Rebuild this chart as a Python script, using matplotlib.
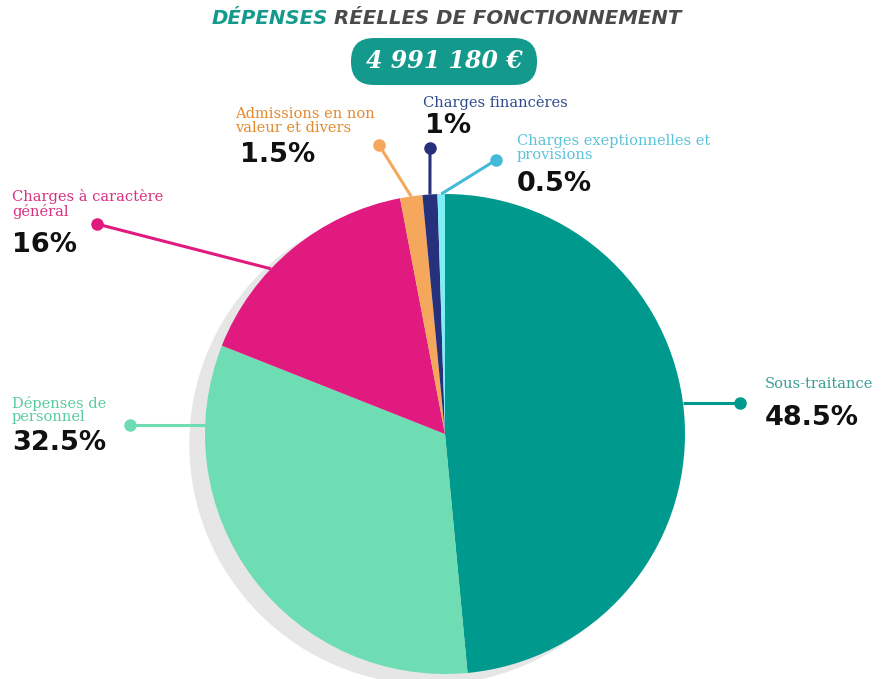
import numpy as np
import matplotlib
matplotlib.use("Agg")
from matplotlib import pyplot as plt
from matplotlib.patches import Circle, FancyBboxPatch

W, H = 882, 679

# data
labels = ["Sous-traitance", "Dépenses de\npersonnel", "Charges à caractère\ngénéral",
          "Admissions en non\nvaleur et divers", "Charges financères",
          "Charges exeptionnelles et\nprovisions"]
values = [48.5, 32.5, 16, 1.5, 1, 0.5]
pct_text = ["48.5%", "32.5%", "16%", "1.5%", "1%", "0.5%"]
total_text = "4 991 180 €"

wedge_colors = ["#00998d", "#6fddb3", "#e01a7e", "#f5a75b", "#27307a", "#80eff5"]
text_colors = ["#3a9e96", "#5acb9d", "#d8307f", "#e38a2f", "#2e4a8c", "#5cc3d8"]
dot_colors = ["#00998d", "#6fddb3", "#e01a7e", "#f5a75b", "#27307a", "#45b9d9"]

# layout (pixel coords, y down)
cx, cy, R = 445, 434, 240
dots = [(740, 403), (130, 425), (97, 224), (379, 145), (430, 148), (496, 160)]
line_y = [403, 425, None, None, None, None]
anchor_ang = [None, None, 136.5, None, None, None]
label_pos = [(765, 384), (12, 410), (12, 204), (235, 121), (423, 103), (517, 148)]
pct_pos = [(765, 418), (12, 443), (12, 245), (240, 155), (425, 126), (517, 184)]

def Y(y):
    return H - y

fig = plt.figure(figsize=(W / 100, H / 100), dpi=100)
ax = fig.add_axes([0, 0, 1, 1])

# shadow
ax.add_patch(Circle((cx - 15, Y(cy + 10)), R, color="#e6e6e6", zorder=1))

wedges, _ = ax.pie(values, colors=wedge_colors, startangle=90, counterclock=False,
                   center=(cx, Y(cy)), radius=R, frame=True,
                   wedgeprops=dict(linewidth=0, zorder=2))
ax.set_xlim(0, W)
ax.set_ylim(0, H)
ax.set_aspect("equal")
ax.axis("off")

# connectors
for i, w in enumerate(wedges):
    dx, dy = dots[i]
    if line_y[i] is not None:
        yy = line_y[i]
        off = np.sqrt(R ** 2 - (yy - cy) ** 2)
        x0 = cx + off if dx > cx else cx - off
        y0 = yy
    else:
        a = anchor_ang[i] if anchor_ang[i] is not None else (w.theta1 + w.theta2) / 2
        ang = np.deg2rad(a)
        x0 = cx + R * np.cos(ang)
        y0 = cy - R * np.sin(ang)
    ax.plot([x0, dx], [Y(y0), Y(dy)], color=dot_colors[i], lw=2.2, zorder=3,
            solid_capstyle="butt")
    ax.plot(dx, Y(dy), "o", color=dot_colors[i], ms=8, zorder=4)

    lx, ly = label_pos[i]
    ax.text(lx, Y(ly), labels[i], color=text_colors[i], fontsize=10.5,
            family="DejaVu Serif", ha="left", va="center", linespacing=0.95)
    px, py = pct_pos[i]
    ax.text(px, Y(py), pct_text[i], color="#111111", fontsize=19.5,
            fontweight="bold", family="DejaVu Sans", ha="left", va="center")

# title
t1 = ax.text(212, Y(18), "DÉPENSES", color="#14998d", fontsize=14.2,
             fontweight="heavy", fontstyle="italic", ha="left", va="center")
fig.canvas.draw()
bb = t1.get_window_extent()
ax.text(bb.x1 + 6, Y(18), "RÉELLES DE FONCTIONNEMENT", color="#4a4a4a",
        fontsize=14.2, fontweight="heavy", fontstyle="italic", ha="left", va="center")

# total pill
ax.add_patch(FancyBboxPatch((351, Y(85)), 186, 47,
                            boxstyle="round,pad=0,rounding_size=23",
                            fc="#14998d", ec="none", zorder=5))
ax.text(444, Y(61), total_text, color="white", fontsize=17, fontweight="bold",
        fontstyle="italic", family="DejaVu Serif", ha="center", va="center", zorder=6)

fig.savefig("out.png", dpi=100, facecolor="white")
